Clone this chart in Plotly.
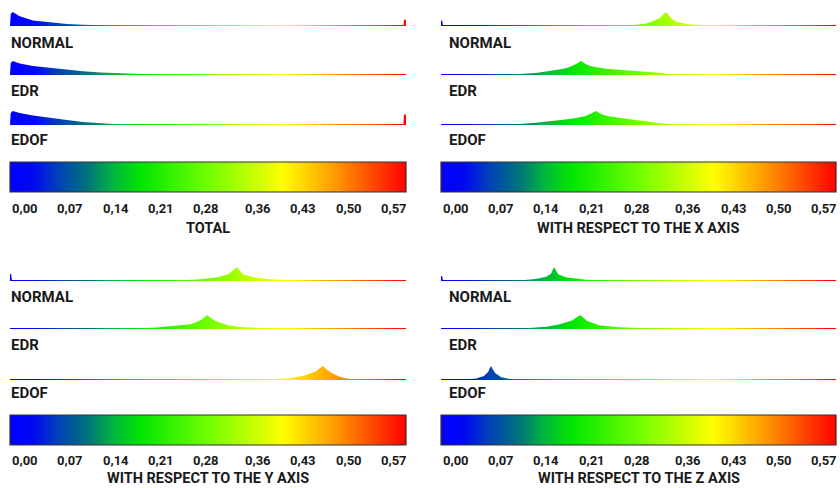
import numpy as np
import plotly.graph_objects as go

W, H = 840, 488
V_MAX = 0.57

COLORSCALE = [[0.0, '#0000ff'], [0.06, '#0008f4'], [0.12, '#0040b8'], [0.19, '#006e80'],
              [0.26, '#00b440'], [0.33, '#00e600'], [0.5, '#70ff00'], [0.69, '#ffff00'],
              [0.82, '#ff9a00'], [1.0, '#ff0000']]

TICK_VALUES = [0.00, 0.07, 0.14, 0.21, 0.28, 0.36, 0.43, 0.50, 0.57]
TICK_LABELS = ['0,00', '0,07', '0,14', '0,21', '0,28', '0,36', '0,43', '0,50', '0,57']
ROW_LABELS = ['NORMAL', 'EDR', 'EDOF']
PANEL_TITLES = ['TOTAL', 'WITH RESPECT TO THE X AXIS',
                'WITH RESPECT TO THE Y AXIS', 'WITH RESPECT TO THE Z AXIS']

# ---- distributions (normalised to the peak of each row) ----
TOTAL_NORMAL_X = [0.000, 0.001, 0.004, 0.014, 0.033, 0.058, 0.082, 0.105, 0.130, 0.154, 0.190, 0.230,
                  0.5662, 0.5672, 0.5700]
TOTAL_NORMAL_Y = [0.00, 0.85, 1.00, 0.70, 0.40, 0.25, 0.15, 0.09, 0.045, 0.02, 0.005, 0.0,
                  0.0, 0.45, 0.45]
TOTAL_EDR_X = [0.000, 0.001, 0.004, 0.014, 0.033, 0.058, 0.082, 0.105, 0.130, 0.154, 0.178, 0.200,
               0.250, 0.300, 0.350]
TOTAL_EDR_Y = [0.00, 0.85, 1.00, 0.82, 0.64, 0.49, 0.36, 0.26, 0.18, 0.13, 0.09, 0.06,
               0.03, 0.01, 0.0]
TOTAL_EDOF_X = [0.000, 0.001, 0.004, 0.014, 0.033, 0.058, 0.082, 0.105, 0.130, 0.154, 0.200, 0.250,
                0.5662, 0.5672, 0.5700]
TOTAL_EDOF_Y = [0.00, 0.85, 1.00, 0.85, 0.68, 0.50, 0.35, 0.22, 0.12, 0.06, 0.02, 0.0,
                0.0, 0.75, 0.75]

X_NORMAL_X = [0.000, 0.0015, 0.003, 0.230, 0.257, 0.281, 0.295, 0.304, 0.315, 0.325, 0.332, 0.339,
              0.354, 0.377, 0.400, 0.426, 0.460, 0.500]
X_NORMAL_Y = [0.40, 0.40, 0.00, 0.00, 0.02, 0.09, 0.17, 0.30, 0.55, 1.00, 0.55, 0.32,
              0.15, 0.07, 0.035, 0.02, 0.005, 0.0]
X_EDR_X = [0.060, 0.088, 0.113, 0.137, 0.160, 0.175, 0.185, 0.195, 0.202, 0.210, 0.218, 0.238,
           0.267, 0.290, 0.304, 0.315, 0.333, 0.360, 0.377, 0.420]
X_EDR_Y = [0.0, 0.02, 0.07, 0.14, 0.28, 0.42, 0.55, 0.78, 1.00, 0.75, 0.60, 0.44,
           0.34, 0.27, 0.20, 0.14, 0.07, 0.03, 0.02, 0.0]
X_EDOF_X = [0.060, 0.088, 0.113, 0.137, 0.160, 0.189, 0.209, 0.218, 0.224, 0.230, 0.238, 0.257,
            0.276, 0.296, 0.315, 0.333, 0.354, 0.380, 0.420]
X_EDOF_Y = [0.0, 0.025, 0.08, 0.17, 0.29, 0.44, 0.64, 0.85, 1.00, 0.80, 0.66, 0.52,
            0.40, 0.24, 0.13, 0.07, 0.04, 0.015, 0.0]

Y_NORMAL_X = [0.000, 0.0015, 0.003, 0.200, 0.227, 0.250, 0.274, 0.299, 0.313, 0.320, 0.326, 0.331,
              0.336, 0.351, 0.371, 0.394, 0.443, 0.480]
Y_NORMAL_Y = [0.50, 0.50, 0.00, 0.00, 0.015, 0.05, 0.12, 0.26, 0.47, 0.70, 1.00, 0.70,
              0.47, 0.26, 0.14, 0.07, 0.02, 0.0]
Y_EDR_X = [0.120, 0.154, 0.188, 0.212, 0.235, 0.260, 0.274, 0.280, 0.284, 0.290, 0.296, 0.313,
           0.332, 0.361, 0.394, 0.430]
Y_EDR_Y = [0.0, 0.015, 0.05, 0.11, 0.20, 0.34, 0.61, 0.85, 1.00, 0.75, 0.57, 0.27,
           0.14, 0.07, 0.02, 0.0]
Y_EDOF_X = [0.330, 0.361, 0.385, 0.404, 0.423, 0.440, 0.446, 0.450, 0.455, 0.462, 0.476, 0.491,
            0.510, 0.530]
Y_EDOF_Y = [0.0, 0.02, 0.07, 0.14, 0.31, 0.60, 0.85, 1.00, 0.78, 0.52, 0.19, 0.06,
            0.015, 0.0]

Z_NORMAL_X = [0.000, 0.0015, 0.003, 0.080, 0.098, 0.117, 0.137, 0.152, 0.159, 0.161, 0.163, 0.166,
              0.169, 0.180, 0.209, 0.257, 0.300]
Z_NORMAL_Y = [0.35, 0.35, 0.00, 0.00, 0.015, 0.05, 0.14, 0.30, 0.53, 0.80, 1.00, 0.75,
              0.49, 0.26, 0.09, 0.02, 0.0]
Z_EDR_X = [0.080, 0.102, 0.127, 0.152, 0.170, 0.189, 0.196, 0.201, 0.206, 0.211, 0.228, 0.257,
           0.296, 0.329, 0.370]
Z_EDR_Y = [0.0, 0.02, 0.07, 0.17, 0.32, 0.61, 0.82, 1.00, 0.78, 0.57, 0.27, 0.12,
           0.05, 0.015, 0.0]
Z_EDOF_X = [0.025, 0.036, 0.051, 0.062, 0.068, 0.070, 0.072, 0.075, 0.078, 0.087, 0.101, 0.115, 0.130]
Z_EDOF_Y = [0.0, 0.02, 0.10, 0.28, 0.57, 0.80, 1.00, 0.75, 0.50, 0.20, 0.06, 0.015, 0.0]

SERIES = [
    [(TOTAL_NORMAL_X, TOTAL_NORMAL_Y), (TOTAL_EDR_X, TOTAL_EDR_Y), (TOTAL_EDOF_X, TOTAL_EDOF_Y)],
    [(X_NORMAL_X, X_NORMAL_Y), (X_EDR_X, X_EDR_Y), (X_EDOF_X, X_EDOF_Y)],
    [(Y_NORMAL_X, Y_NORMAL_Y), (Y_EDR_X, Y_EDR_Y), (Y_EDOF_X, Y_EDOF_Y)],
    [(Z_NORMAL_X, Z_NORMAL_Y), (Z_EDR_X, Z_EDR_Y), (Z_EDOF_X, Z_EDOF_Y)],
]

# ---- geometry (pixels) ----
PANEL_X = [(10, 406), (441, 836), (10, 406), (441, 836)]
ROW_BASE = [[26, 75, 125], [281, 329, 380]]
ROW_LABEL_Y = [[43, 91, 140], [297, 345, 393]]
CBAR_Y = [(162, 192), (415, 445)]
TICK_Y = [208, 460]
TITLE_Y = [229, 478]
LABEL_INSET = (15, 12)  # tick labels inset from colorbar ends
TEXT = '#1a1a1a'
FONT = 'Roboto'

def fx(px):
    return px / W

def fy(px):
    return 1 - px / H

grad = dict(type='horizontal', colorscale=COLORSCALE, start=0, stop=V_MAX)
fig = go.Figure()
layout = {}
annotations = []
shapes = []

ax = 0
for p in range(4):
    x0, x1 = PANEL_X[p]
    xdom = [fx(x0), fx(x1)]
    half = p // 2
    for r in range(3):
        ax += 1
        B = ROW_BASE[half][r]
        xs, ys = SERIES[p][r]
        fig.add_trace(go.Scatter(x=[0, V_MAX], y=[0.075, 0.075], xaxis=f'x{ax}', yaxis=f'y{ax}',
                                 mode='lines', line=dict(width=0), fill='tozeroy',
                                 fillgradient=grad, opacity=0.22, hoverinfo='skip',
                                 showlegend=False))
        fig.add_trace(go.Scatter(x=xs, y=ys, xaxis=f'x{ax}', yaxis=f'y{ax}',
                                 mode='lines', line=dict(width=0), fill='tozeroy',
                                 fillgradient=grad, hoverinfo='skip', showlegend=False))
        layout[f'xaxis{ax}'] = dict(domain=xdom, range=[0, V_MAX], visible=False, anchor=f'y{ax}')
        layout[f'yaxis{ax}'] = dict(domain=[fy(B + 1), fy(B - 16)], range=[-0.07, 1.14],
                                    visible=False, anchor=f'x{ax}')
        lx = x0 - 1 if p % 2 == 0 else x0 + 6
        annotations.append(dict(text=ROW_LABELS[r], xref='paper', yref='paper', x=fx(lx),
                                y=fy(ROW_LABEL_Y[half][r]), xanchor='left', yanchor='middle',
                                showarrow=False,
                                font=dict(family=FONT, size=15, color=TEXT, weight='bold')))

for p in range(4):
    x0, x1 = PANEL_X[p]
    half = p // 2
    cb = 13 + p
    lb = 17 + p
    cy0, cy1 = CBAR_Y[half]
    cbx = np.linspace(0, V_MAX, 400)
    fig.add_trace(go.Heatmap(x=cbx, y=[0], z=[cbx], zmin=0, zmax=V_MAX, colorscale=COLORSCALE,
                             showscale=False, hoverinfo='skip', xaxis=f'x{cb}', yaxis=f'y{cb}'))
    layout[f'xaxis{cb}'] = dict(domain=[fx(x0), fx(x1)], range=[0, V_MAX], visible=False,
                                anchor=f'y{cb}')
    layout[f'yaxis{cb}'] = dict(domain=[fy(cy1), fy(cy0)], range=[-0.5, 0.5], visible=False,
                                anchor=f'x{cb}')
    # label axis: tick values inset from the colorbar ends
    ppu = ((x1 - x0) - sum(LABEL_INSET)) / V_MAX
    lo = -LABEL_INSET[0] / ppu
    hi = V_MAX + LABEL_INSET[1] / ppu
    fig.add_trace(go.Scatter(x=TICK_VALUES, y=[0] * len(TICK_VALUES), mode='markers',
                             marker=dict(opacity=0), xaxis=f'x{lb}', yaxis=f'y{cb}',
                             hoverinfo='skip', showlegend=False))
    layout[f'xaxis{lb}'] = dict(overlaying=f'x{cb}', anchor=f'y{cb}', range=[lo, hi], visible=False)
    shapes.append(dict(type='rect', xref=f'x{cb} domain', yref=f'y{cb} domain', x0=0, x1=1,
                       y0=0, y1=1, line=dict(color='#333333', width=1.2)))
    for v, t in zip(TICK_VALUES, TICK_LABELS):
        annotations.append(dict(text=t, xref=f'x{lb}', yref='paper', x=v, y=fy(TICK_Y[half]),
                                xanchor='center', yanchor='middle', showarrow=False,
                                font=dict(family=FONT, size=13, color=TEXT, weight='bold')))
    annotations.append(dict(text=PANEL_TITLES[p], xref='paper', yref='paper',
                            x=fx((x0 + x1) / 2), y=fy(TITLE_Y[half]), xanchor='center',
                            yanchor='middle', showarrow=False,
                            font=dict(family=FONT, size=14.5, color=TEXT, weight='bold')))

fig.update_layout(width=W, height=H, autosize=False, margin=dict(l=0, r=0, t=0, b=0),
                  paper_bgcolor='white', plot_bgcolor='rgba(0,0,0,0)', showlegend=False,
                  annotations=annotations, shapes=shapes, **layout)
fig.write_html('out.html', config={'displayModeBar': False},
               post_script="document.body.style.margin='0';document.body.style.overflow='hidden';")
